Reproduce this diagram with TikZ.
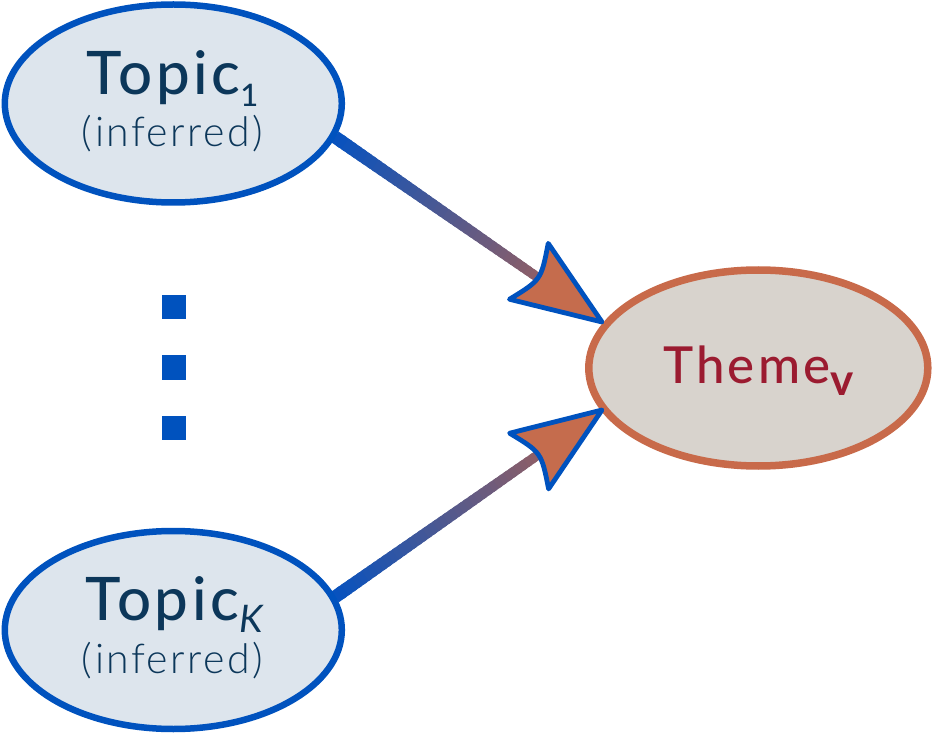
\documentclass[tikz,border=0pt]{standalone}
\usepackage{fontspec}
\setmainfont{Lato}
\newfontfamily\latolight{Lato Light}[LetterSpace=6]
\newfontfamily\latomed{Lato Medium}[LetterSpace=6]
\usetikzlibrary{shapes.geometric,calc}
\pgfdeclarelayer{bg}
\pgfsetlayers{bg,main}
\definecolor{tblue}{RGB}{0,82,190}
\definecolor{tfill}{RGB}{221,229,237}
\definecolor{navy}{RGB}{12,55,90}
\definecolor{hborder}{RGB}{200,106,74}
\definecolor{hfill}{RGB}{216,211,205}
\definecolor{htext}{RGB}{155,27,48}
\definecolor{headfill}{RGB}{197,108,77}
\definecolor{shaftstart}{RGB}{8,82,190}
\definecolor{shaftend}{RGB}{140,94,104}
\newcommand\gradarrow[2]{%
  \coordinate (#2e) at ($(#2)!80pt!(#1)$);
  \coordinate (#2b) at ($(#2)!89pt!(#1)$);
  \begin{pgfonlayer}{bg}
    \draw[shaft, line width=13pt, color=shaftstart] ($(#1)!-20pt!(#2)$) -- (#1);
    \foreach \i in {0,...,39}{%
      \pgfmathsetmacro\pa{\i/40}%
      \pgfmathsetmacro\pb{(\i+1.6)/40}%
      \pgfmathtruncatemacro\pc{100*\i/39}%
      \pgfmathsetmacro\lw{13-3.5*\i/39}%
      \draw[shaft, line width=\lw pt, color=shaftend!\pc!shaftstart] ($(#1)!\pa!(#2e)$) -- ($(#1)!\pb!(#2e)$);
    }
  \end{pgfonlayer}
  \draw[headstyle] (#2) -- ($(#2b)!34pt!90:(#2)$) .. controls ($(#2)!74pt!(#1)$) .. ($(#2b)!34pt!-90:(#2)$) -- cycle;
}
\begin{document}
\begin{tikzpicture}[x=1pt,y=-1pt,
  topic/.style={ellipse, draw=tblue, fill=tfill, line width=6.5pt, minimum width=337pt, minimum height=198pt, inner sep=0pt},
  theme/.style={ellipse, draw=hborder, fill=hfill, line width=7.5pt, minimum width=339pt, minimum height=196pt, inner sep=0pt},
  lbl/.style={anchor=base, inner sep=0pt, text=navy},
  dotbox/.style={fill=tblue, minimum size=24pt, inner sep=0pt},
  shaft/.style={line cap=butt},
  headstyle/.style={fill=headfill, draw=tblue, line width=4.8pt, line join=round}]
\useasboundingbox (0,0) rectangle (932,735);
\node[topic] (t1) at (173.3,103.5) {};
\node[topic] (tk) at (173.3,630) {};
\node[theme] (th) at (758.3,368) {};
\node[lbl, font=\latomed\fontsize{60}{60}\selectfont] (t1a) at (172.5,95) {Topic\raisebox{-12pt}{\fontsize{31}{31}\selectfont 1}};
\node[lbl, font=\latolight\fontsize{41}{41}\selectfont] (t1b) at (172.5,147) {(inferred)};
\node[lbl, font=\latomed\fontsize{60}{60}\selectfont] (tka) at (174,620) {Topic\raisebox{-12pt}{\fontsize{38}{38}\selectfont\rmfamily\itshape K}};
\node[lbl, font=\latolight\fontsize{41}{41}\selectfont] (tkb) at (172.5,673) {(inferred)};
\node[lbl, text=htext, font=\latomed\fontsize{51}{51}\selectfont] (tha) at (758.5,384) {Theme\raisebox{-12pt}{\fontsize{44}{44}\selectfont\rmfamily\bfseries v}};
\node[dotbox] (d1) at (173.5,307) {};
\node[dotbox] (d2) at (173.5,367.5) {};
\node[dotbox] (d3) at (173.5,427.5) {};
\coordinate (s1) at (335,137);
\coordinate (h1) at (602,322);
\coordinate (s2) at (335,597);
\coordinate (h2) at (602,410);
\gradarrow{s1}{h1}
\gradarrow{s2}{h2}
\end{tikzpicture}
\end{document}
